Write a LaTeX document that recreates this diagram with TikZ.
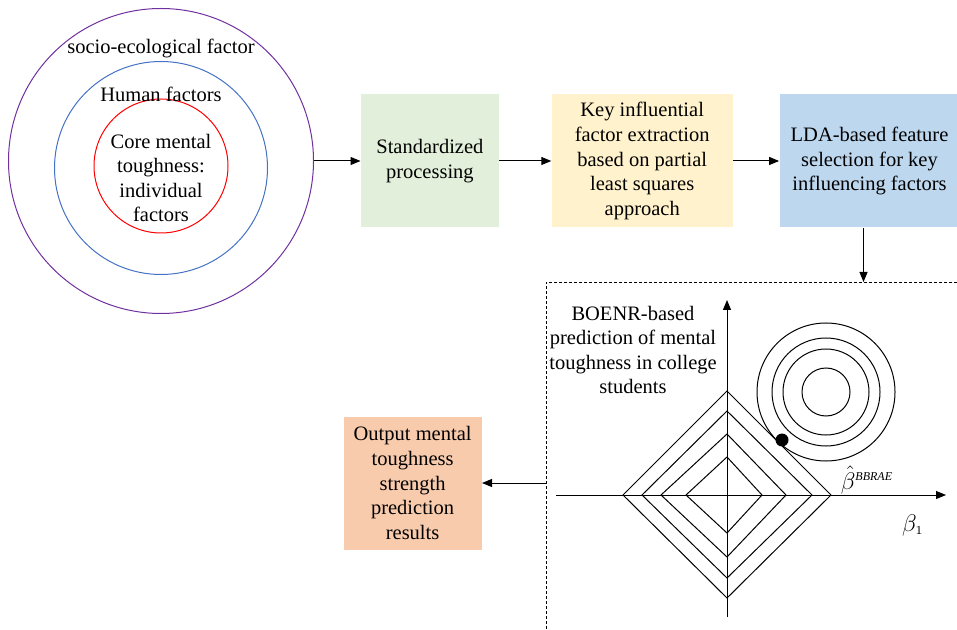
\documentclass[tikz,border=0pt]{standalone}
\usepackage{fontspec}
\setmainfont{Liberation Serif}
\newfontfamily\diagfont{Liberation Serif}
\usetikzlibrary{arrows.meta,positioning}
\definecolor{ecopurple}{HTML}{7030A0}
\definecolor{humblue}{HTML}{4472C4}
\definecolor{stdgreen}{HTML}{E2EFDA}
\definecolor{plsyellow}{HTML}{FFF2CC}
\definecolor{ldablue}{HTML}{BDD7EE}
\definecolor{outorange}{HTML}{F8CBAD}

\begin{document}
\begin{tikzpicture}[
  x=0.5pt, y=-0.5pt,
  font=\diagfont\fontsize{10.25}{12.3}\selectfont,
  ring/.style={draw, circle, inner sep=0pt, line width=0.5pt},
  box/.style={minimum height=66.5pt, minimum width=69pt, inner sep=2pt, align=center},
  arr/.style={-{Triangle[length=5pt, width=4pt]}, line width=0.5pt},
  lbl/.style={align=center, inner sep=0pt},
  coef/.style={inner sep=0pt, font=\fontsize{12}{12}\selectfont},
  panel/.style={dash pattern=on 1.5pt off 1pt, line width=0.45pt}
]
\useasboundingbox (0,0) rectangle (957,630);

% Factor layers
\node[ring, draw=ecopurple, minimum size=152.5pt] (eco) at (161,161) {};
\node[ring, draw=humblue, minimum size=106.5pt] (hum) at (161,168) {};
\node[ring, draw=red, minimum size=67pt] (core) at (161,166) {};
\node[lbl] (ecotxt) at (161,48) {socio-ecological factor};
\node[lbl] (humtxt) at (161,94) {Human factors};
\node[lbl] (coretxt) at (161,178) {Core mental\\toughness:\\individual\\factors};

% Pipeline
\node[box, fill=stdgreen, right=23.25pt of eco] (std) {Standardized\\processing};
\node[box, fill=plsyellow, minimum width=90.5pt, right=26pt of std] (pls)
  {Key influential\\factor extraction\\based on partial\\least squares\\approach};
\node[box, fill=ldablue, minimum width=90pt, right=23pt of pls] (lda)
  {LDA-based feature\\selection for key\\influencing factors};

\draw[arr] (eco) -- (std);
\draw[arr] (std) -- (pls);
\draw[arr] (pls) -- (lda);

% Prediction panel
\coordinate (pnl) at (546,282);
\coordinate (pnlin) at (546,483);
\draw[panel] (957,282) -- (pnl) -- (546,630);
\draw[arr] ([xshift=-3pt]lda.south) -- ([xshift=-3pt]lda.south |- pnl);

\node[lbl] (boenr) at (633,350) {BOENR-based\\prediction of mental\\toughness in college\\students};

% Axes
\draw[arr] (727,617) -- (727,300);
\draw[arr] (556,495) -- (946,495);

% Penalty contours
\foreach \l/\r/\t/\b in {104/104/104/103, 85/85/84/83, 66/59/61/62, 41/35/38/38}
  \draw[line width=0.5pt] (727-\l,495) -- (727,495-\t) -- (727+\r,495) -- (727,495+\b) -- cycle;

% Loss contours
\foreach \rad in {69,54,43,24}
  \draw[line width=0.5pt] (826,392) circle[radius=\rad];
\fill (782,440) circle[radius=6.5];

\node[coef] (bhat) at (867,480) {$\hat{\beta}^{\scriptscriptstyle\mathit{BBRAE}}$};
\node[coef] (bone) at (913,525) {$\beta_{\scriptscriptstyle 1}$};

% Output
\node[box, fill=outorange, left=32pt of pnlin] (out)
  {Output mental\\toughness\\strength\\prediction\\results};
\draw[arr] (pnlin) -- (out);

\end{tikzpicture}
\end{document}
